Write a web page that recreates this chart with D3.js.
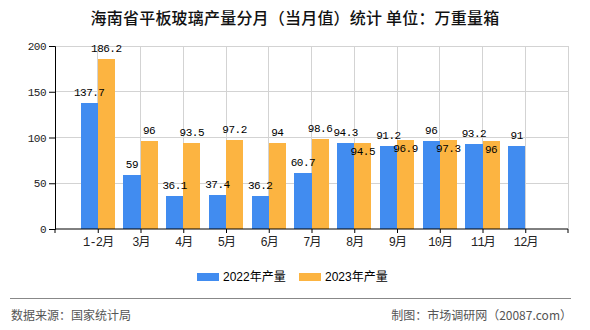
<!DOCTYPE html>
<html><head><meta charset="utf-8">
<script src="https://cdn.jsdelivr.net/npm/d3@7"></script>
<style>body{margin:0;background:#fff}svg{display:block}</style>
</head><body>
<svg id="c" width="590" height="330"></svg>
<script>
const categories = ["1-2月","3月","4月","5月","6月","7月","8月","9月","10月","11月","12月"];
const values2022 = [137.7,59,36.1,37.4,36.2,60.7,94.3,91.2,96,93.2,91];
const values2023 = [186.2,96,93.5,97.2,94,98.6,94.5,96.9,97.3,96,null];
const seriesNames = ["2022年产量","2023年产量"];
const yTicks = [0,50,100,150,200];
const title = "海南省平板玻璃产量分月（当月值）统计 单位：万重量箱";
const source = "数据来源：国家统计局";
const maker = "制图：市场调研网（20087.com）";

const colors = ["#418CF0","#FCB441"];
const monoFont = "'Liberation Mono','Noto Sans CJK SC',monospace";
const cjk = "'Noto Sans CJK SC','Liberation Sans',sans-serif";

const svg = d3.select("#c");
const L = 55, R = 568, T = 46, B = 229;
const x = d3.scalePoint().domain(categories).range([L, R]).padding(1);
const step = x.step();
const bw = step * 0.4;
const y = d3.scaleLinear().domain([0,200]).range([B, T]);

svg.append("text").attr("x",295).attr("y",24).attr("text-anchor","middle")
  .attr("font-family",cjk).attr("font-size",16).attr("font-weight",500).attr("letter-spacing","0.2px").attr("fill","#111").text(title);

// grid
const g = svg.append("g");
g.selectAll("line.h").data(yTicks.filter(d=>d>0)).join("line")
  .attr("x1",L).attr("x2",R).attr("y1",d=>y(d)).attr("y2",d=>y(d))
  .attr("stroke","#d3d3d3").attr("stroke-width",1).attr("shape-rendering","crispEdges");
g.selectAll("line.v").data(categories.map(c=>x(c)).concat([R])).join("line")
  .attr("x1",d=>d).attr("x2",d=>d).attr("y1",T).attr("y2",B)
  .attr("stroke","#d3d3d3").attr("stroke-width",1).attr("shape-rendering","crispEdges");

// bars
const series = [values2022, values2023];
series.forEach((vals, si) => {
  svg.append("g").selectAll("rect").data(categories.map((c,i)=>({c,v:vals[i]})).filter(d=>d.v!=null)).join("rect")
    .attr("x",d=> si===0 ? x(d.c)-bw : x(d.c))
    .attr("y",d=>y(d.v)).attr("width",bw).attr("height",d=>B-y(d.v))
    .attr("fill",colors[si]).attr("shape-rendering","crispEdges");
});

// axes
const yAxis = d3.axisLeft(y).tickValues(yTicks).tickSize(6).tickPadding(3);
const ya = svg.append("g").attr("transform",`translate(${L},0)`).call(yAxis);
ya.select(".domain").attr("stroke","#000");
ya.selectAll(".tick line").attr("stroke","#000");
ya.selectAll("text").attr("font-family",monoFont).attr("font-size",11).attr("letter-spacing","-0.5px").attr("fill","#222");

const xa = svg.append("g").attr("transform",`translate(0,${B})`).call(d3.axisBottom(x).tickSize(4).tickPadding(4));
xa.select(".domain").attr("d",`M${L},0H${R}`).attr("stroke","#000");
xa.selectAll(".tick line").attr("stroke","#000");
xa.selectAll("text").attr("font-family",monoFont).attr("font-size",12).attr("letter-spacing","-0.8px").attr("fill","#222");
[L,R].forEach(px => xa.append("line").attr("x1",px).attr("x2",px).attr("y1",0).attr("y2",4).attr("stroke","#000"));

// value labels
series.forEach((vals, si) => {
  svg.append("g").selectAll("text").data(categories.map((c,i)=>({c,i,v:vals[i]})).filter(d=>d.v!=null)).join("text")
    .attr("x",d=> si===0 ? x(d.c)-bw/2 : x(d.c)+bw/2)
    .attr("y",d=>{
      const other = series[1-si][d.i];
      const inside = si===1 && other!=null && Math.abs(other-d.v) < 10;
      return inside ? y(d.v)+12 : y(d.v)-7;
    })
    .attr("text-anchor","middle").attr("font-family",monoFont).attr("font-size",11)
    .attr("letter-spacing","-0.5px").attr("fill","#000").text(d=>d.v);
});

// legend
const lg = svg.append("g");
const legX = [197, 299];
seriesNames.forEach((n,i)=>{
  lg.append("rect").attr("x",legX[i]).attr("y",273).attr("width",22).attr("height",8).attr("fill",colors[i]);
  lg.append("text").attr("x",legX[i]+26).attr("y",281).attr("font-family","'Liberation Sans','Noto Sans CJK SC',sans-serif")
    .attr("font-size",12).attr("fill","#000").text(n);
});

svg.append("line").attr("x1",10).attr("x2",571).attr("y1",298.5).attr("y2",298.5).attr("stroke","#888").attr("stroke-width",1);
svg.append("text").attr("x",11).attr("y",320).attr("font-family",cjk).attr("font-size",12).attr("fill","#555").text(source);
svg.append("text").attr("x",572).attr("y",320).attr("text-anchor","end").attr("font-family",cjk).attr("font-size",12).attr("fill","#555").text(maker);
</script>
</body></html>
